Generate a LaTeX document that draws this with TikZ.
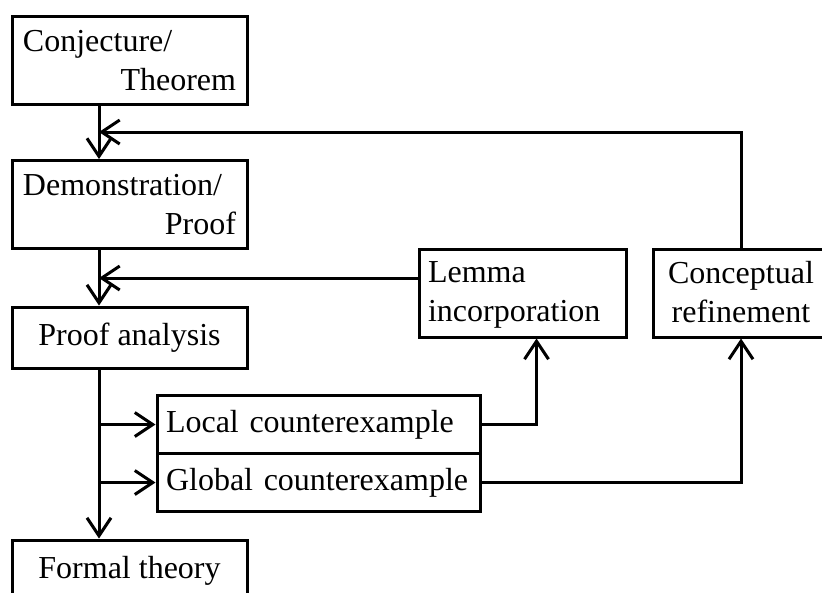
\documentclass[tikz,border=0pt]{standalone}
\usepackage{fontspec}
\setmainfont{Liberation Serif}
\usetikzlibrary{arrows.meta,calc}

\tikzset{
  stage/.style={draw, line width=3pt, inner sep=0pt, minimum width=235pt},
  twoline/.style={stage, minimum height=88pt, text width=213pt, align=left},
  counter/.style={stage, minimum width=323pt, minimum height=58pt, text width=305pt, align=left},
  flow/.style={line width=3pt, -{Straight Barb[length=18pt,width=24pt]}},
}

\begin{document}
\begin{tikzpicture}[x=1pt, y=-1pt, font=\fontsize{32}{39}\selectfont]
  \useasboundingbox (0,0) rectangle (822,592);
  % main column
  \node[twoline] (conj) at (129.5,60.5) {Conjecture/\\\hspace*{0pt plus 1filll}Theorem};
  \node[twoline] (demo) at (129.5,204.5) {Demonstration/\\\hspace*{0pt plus 1filll}Proof};
  \node[stage, minimum height=61pt] (analysis) at (129.5,337.5) {Proof analysis};
  \node[stage, minimum height=61pt] (formal) at (129.5,570.5) {Formal theory};
  % counterexamples
  \node[counter] (local) at (318.5,424.5) {Local counterexample};
  \node[counter] (global) at (318.5,482.5) {Global counterexample};
  % refinements
  \node[stage, minimum width=207pt, minimum height=88pt, text width=189pt, align=left] (lemma) at (522.5,293)
    {\rule{0pt}{24pt}Lemma\\incorporation\rule[-5pt]{0pt}{5pt}};
  \node[stage, minimum width=176pt, minimum height=88pt, align=center] (concept) at (741,293)
    {\rule{0pt}{24pt}Conceptual\\refinement\rule[-5pt]{0pt}{5pt}};
  % connectors
  \coordinate (trunk) at (99,0);
  \coordinate (back1) at (99,132);
  \coordinate (back2) at (99,278);
  \draw[flow] (conj.south -| trunk) -- (demo.north -| trunk);
  \draw[flow] (demo.south -| trunk) -- (analysis.north -| trunk);
  \draw[flow] (analysis.south -| trunk) -- (formal.north -| trunk);
  \draw[flow] (trunk |- local.west) -- (local.west);
  \draw[flow] (trunk |- global.west) -- (global.west);
  \draw[flow] (local.east) -| ([xshift=14pt]lemma.south);
  \draw[flow] (global.east) -| (concept.south);
  \draw[flow] (concept.north) |- (back1);
  \draw[flow] (lemma.west |- back2) -- (back2);
\end{tikzpicture}
\end{document}
